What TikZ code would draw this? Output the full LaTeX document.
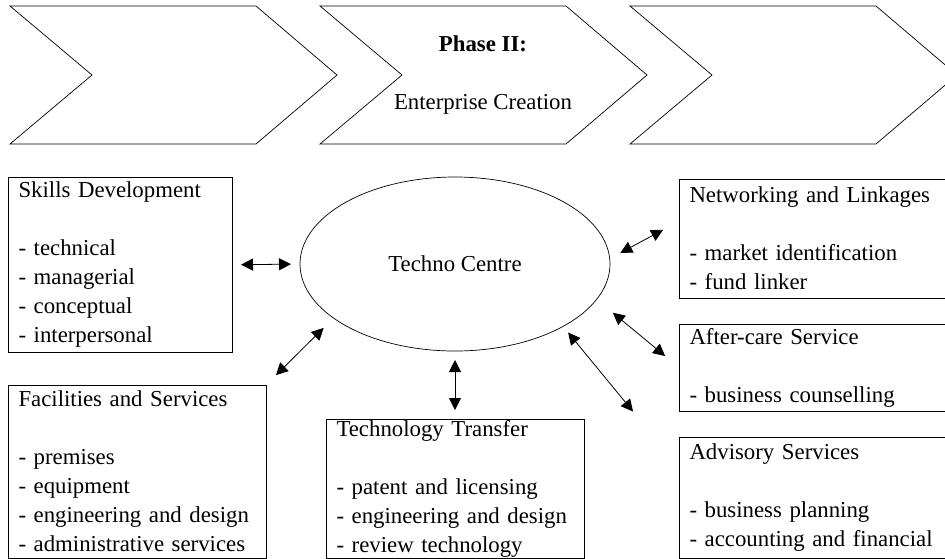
\documentclass[tikz,border=0pt]{standalone}
\usepackage{fontspec}
\setmainfont{Liberation Serif}
\setlength{\parindent}{0pt}
\usetikzlibrary{arrows.meta,calc,shapes.geometric}

\begin{document}
\begin{tikzpicture}[x=1pt, y=-1pt, font=\fontsize{22.8}{29}\selectfont,
		>={Triangle[length=12pt, width=12pt]},
		InfoBox/.style={draw, line width=0.8pt, anchor=north west, align=left, inner xsep=10.5pt, inner ysep=5pt, outer sep=0pt},
		LinkArrow/.style={<->, line width=0.8pt}]
		\useasboundingbox (0,0) rectangle (945,558);
		\clip (0,0) rectangle (945,558);
		% phase chevrons
		\foreach \x in {10,320,630}
			\draw[line width=0.7pt] (\x,6) -- ++(246,0) -- ++(81,69) -- ++(-81,69) -- ++(-246,0) -- ++(82,-69) -- cycle;
		\node[align=center] (phase) at (483,75) {\textbf{Phase II:}\\[29pt]Enterprise Creation};
		% centre and boxes
		\node[ellipse, draw, line width=0.7pt, minimum width=310pt, minimum height=174pt, inner sep=0pt, outer sep=0pt] (techno) at (455,264) {Techno Centre};
		\node[InfoBox, text width=203pt, minimum height=174pt] (skills) at (8,177) {Skills Development\\[29pt]- technical\\- managerial\\- conceptual\\- interpersonal};
		\node[InfoBox, text width=237pt, minimum height=173pt] (facilities) at (8,385) {Facilities and Services\\[29pt]- premises\\- equipment\\- engineering and design\\- administrative services};
		\node[InfoBox, text width=237pt, minimum height=138pt, inner ysep=1pt] (transfer) at (326,419) {Technology Transfer\\[29pt]- patent and licensing\\- engineering and design\\- review technology};
		\node[InfoBox, text width=260pt, minimum height=119pt] (network) at (679,179) {Networking and Linkages\\[29pt]- market identification\\- fund linker};
		\node[InfoBox, text width=260pt, minimum height=86pt, inner ysep=4pt] (aftercare) at (679,324) {After-care Service\\[29pt]- business counselling};
		\node[InfoBox, text width=260pt, minimum height=121pt] (advisory) at (679,437) {Advisory Services\\[29pt]- business planning\\- accounting and financial};
		% links
		\coordinate (advisoryin) at ($(advisory.north west)+(-25,0)$);
		\draw[LinkArrow, shorten <=9pt, shorten >=9pt] (skills.east) -- (techno.west);
		\draw[LinkArrow, shorten <=14pt, shorten >=14pt] (facilities.north east) -- (techno.204);
		\draw[LinkArrow, shorten <=9pt, shorten >=9pt] (transfer.north) -- (techno.south);
		\draw[LinkArrow, shorten <=12pt, shorten >=18pt] (techno.2) -- (network.173);
		\draw[LinkArrow, shorten <=21pt, shorten >=18pt] (techno.346) -- (aftercare.west);
		\draw[LinkArrow, shorten <=8pt, shorten >=33pt] (techno.330) -- (advisoryin);
	\end{tikzpicture}
\end{document}
